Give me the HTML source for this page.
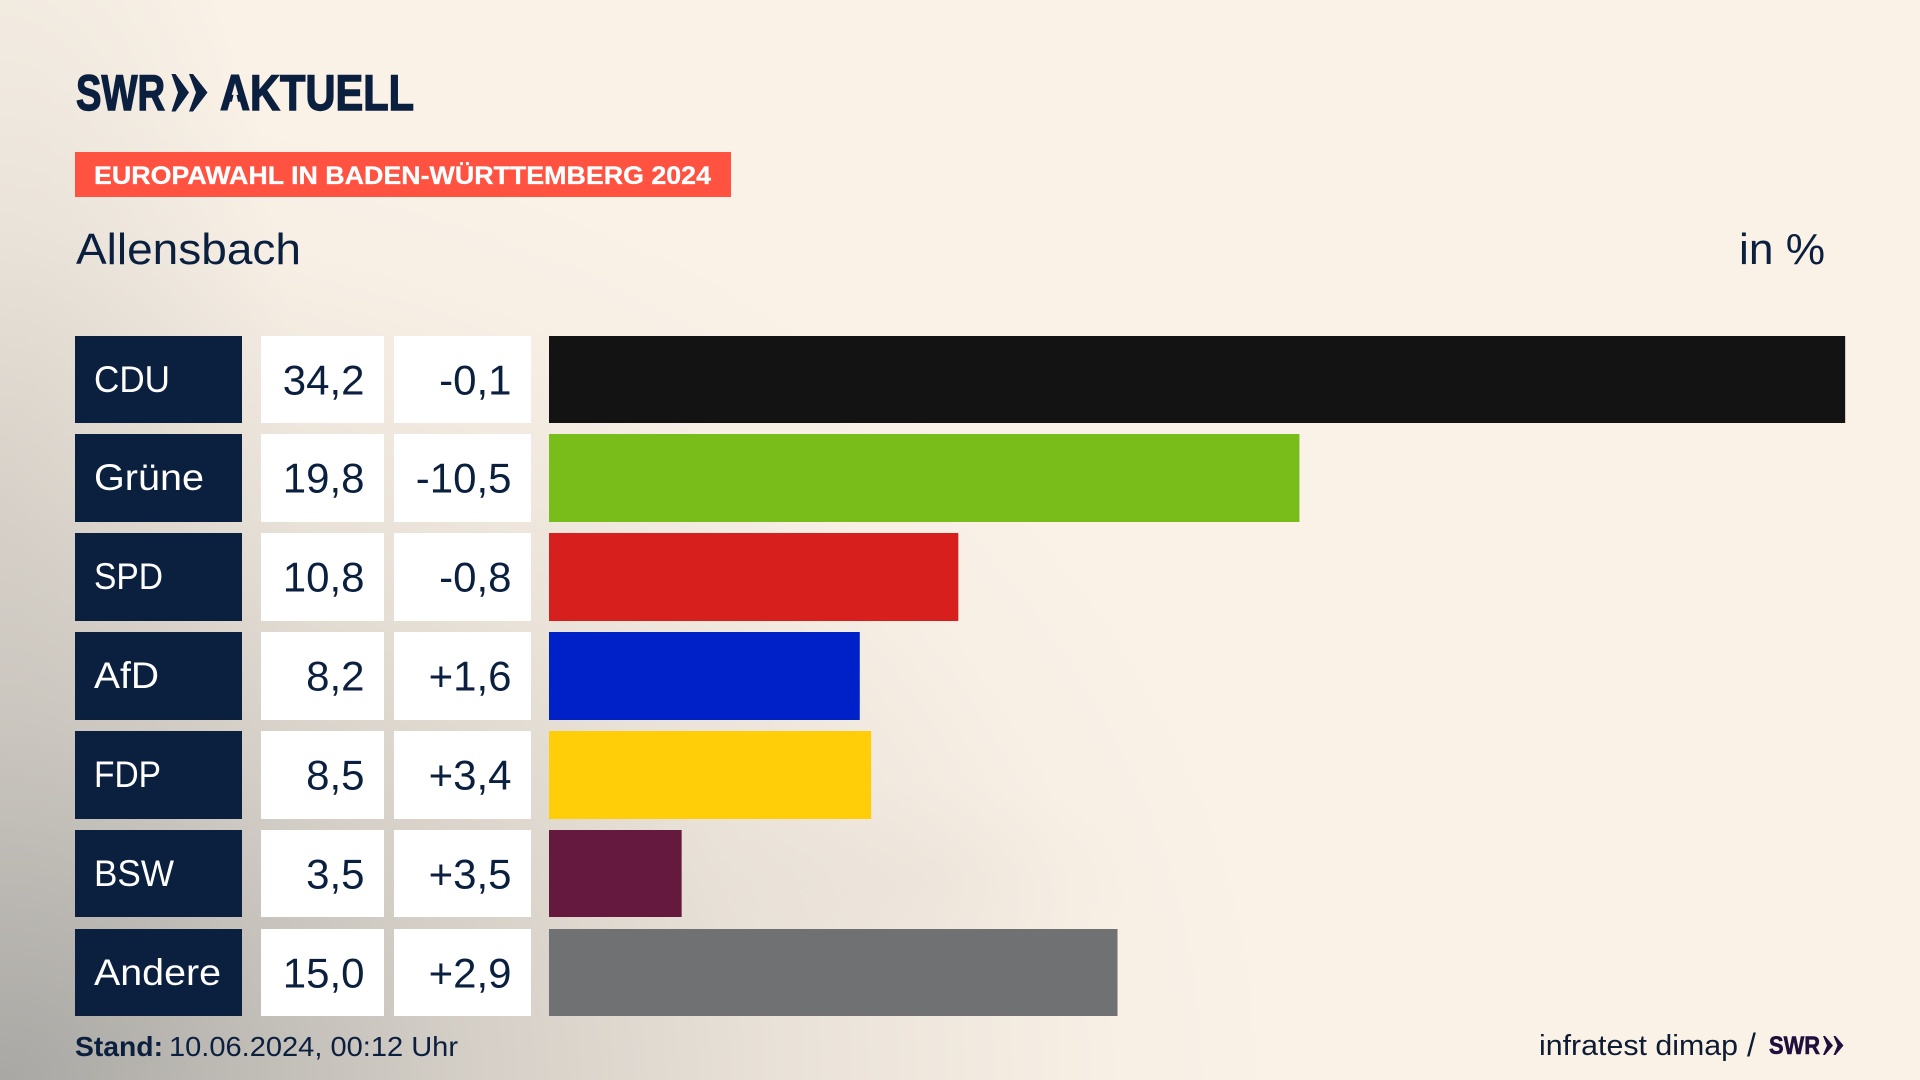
<!DOCTYPE html>
<html lang="de">
<head>
<meta charset="utf-8">
<title>Europawahl in Baden-Württemberg 2024 – Allensbach</title>
<style>
html,body{margin:0;padding:0;width:1920px;height:1080px;overflow:hidden;background:#faf2e7}
#stage{position:absolute;left:0;top:0;width:1920px;height:1080px;
background:
radial-gradient(ellipse 1300px 1000px at 0px 1080px,rgba(150,150,148,.8) 0%,rgba(150,150,148,.6) 18%,rgba(155,153,150,.4) 36%,rgba(165,160,155,.2) 60%,rgba(180,172,165,.04) 85%,rgba(250,242,231,0) 100%),
radial-gradient(ellipse 300px 750px at 0px 500px,rgba(150,150,148,.22) 0%,rgba(150,150,148,.1) 55%,rgba(250,242,231,0) 100%),
radial-gradient(ellipse 220px 100px at 930px 880px,rgba(220,210,200,.14) 0%,rgba(250,242,231,0) 100%),
#faf2e7}
svg{position:absolute;left:0;top:0}
text{font-family:"Liberation Sans",sans-serif}
</style>
</head>
<body>
<div id="stage">
<svg id="chart" width="1920" height="1080" viewBox="0 0 1920 1080">
  <g fill="#0b1f3f">
    <text x="76" y="110" font-size="50" font-weight="700" textLength="89" lengthAdjust="spacingAndGlyphs" stroke="#0b1f3f" stroke-width="1.4">SWR</text>
    <polygon points="171.5,74 175.5,74 189,92.5 175.5,111.5 171.5,111.5 178,92.5"/>
    <polygon points="189,74 193,74 207.5,92.5 193,111.5 189,111.5 196,92.5"/>
    <text x="220" y="110" font-size="50" font-weight="700" textLength="194" lengthAdjust="spacingAndGlyphs" stroke="#0b1f3f" stroke-width="1.4">AKTUELL</text>
    <polygon points="229.5,111.5 240.5,111.5 235,89" fill="#f8f0e5"/>
  </g>
  <rect x="75" y="152" width="656" height="45" fill="#ff5240"/>
  <text x="94" y="184" font-size="25" font-weight="700" fill="#fff" stroke="#fff" stroke-width=".3" textLength="617" lengthAdjust="spacingAndGlyphs">EUROPAWAHL IN BADEN-WÜRTTEMBERG 2024</text>
  <text x="76" y="264" font-size="44" fill="#0b1f3f" textLength="225" lengthAdjust="spacingAndGlyphs">Allensbach</text>
  <text x="1739" y="264" font-size="44" fill="#0b1f3f" textLength="86" lengthAdjust="spacingAndGlyphs">in %</text>
  <g id="rows"></g>
  <text x="75" y="1056" font-size="28" font-weight="700" fill="#0b1f3f" textLength="88" lengthAdjust="spacingAndGlyphs">Stand:</text>
  <text x="169" y="1056" font-size="28" fill="#0b1f3f" textLength="289" lengthAdjust="spacingAndGlyphs">10.06.2024, 00:12 Uhr</text>
  <text x="1539" y="1055" font-size="29" fill="#0d1b33" textLength="199" lengthAdjust="spacingAndGlyphs">infratest dimap</text>
  <text x="1747" y="1056" font-size="32" fill="#0d1b33">/</text>
  <text x="1769" y="1054" font-size="25" font-weight="700" fill="#1e0f3c" stroke="#1e0f3c" stroke-width=".6" textLength="51" lengthAdjust="spacingAndGlyphs">SWR</text>
  <polygon points="1823,1036 1825,1036 1833,1045.5 1825,1055 1823,1055 1827,1045.5" fill="#1e0f3c"/>
  <polygon points="1833.5,1036 1835.5,1036 1843.5,1045.5 1835.5,1055 1833.5,1055 1837.5,1045.5" fill="#1e0f3c"/>
</svg>
</div>
<script>
const categories = ["CDU", "Grüne", "SPD", "AfD", "FDP", "BSW", "Andere"];
const shares = [34.2, 19.8, 10.8, 8.2, 8.5, 3.5, 15.0];
const changes = [-0.1, -10.5, -0.8, 1.6, 3.4, 3.5, 2.9];
const partyColors = ["#131313", "#79bd1a", "#d7201e", "#0021c8", "#ffce09", "#65193f", "#6f7173"];
const labelTextWidths = [76, 110, 69, 65, 67, 80, 127];

const NS = "http://www.w3.org/2000/svg";
const rowsGroup = document.getElementById("rows");
function xScale(v) { return v * 37.9; }
function yTop(i) { return Math.floor(336 + i * 98.84); }
function yBottom(i) { return Math.floor(336 + i * 98.84 + 87.7); }
function fmt(v) { return v.toFixed(1).replace(".", ","); }
function fmtChange(v) { return (v > 0 ? "+" : "") + fmt(v); }
function make(tag, attrs, parent) {
  const el = document.createElementNS(NS, tag);
  for (const k in attrs) el.setAttribute(k, attrs[k]);
  parent.appendChild(el);
  return el;
}
categories.forEach(function (name, i) {
  const top = yTop(i);
  const h = yBottom(i) - top;
  const key = name.toLowerCase().replace("ü", "ue");

  const labelBox = make("rect", { x: 75, y: top, width: 167, height: h, fill: "#0b1f3f" }, rowsGroup);
  
  

  const label = make("text", { x: 94, y: top + 56, "font-size": 37, fill: "#fff", textLength: labelTextWidths[i], lengthAdjust: "spacingAndGlyphs" }, rowsGroup);
  label.textContent = name;
  
  

  const valueBox = make("rect", { x: 261, y: top, width: 123, height: h, fill: "#fff" }, rowsGroup);
  
  

  const value = make("text", { x: 364.5, y: top + 58.5, "font-size": 42, fill: "#0b1f3f", "text-anchor": "end" }, rowsGroup);
  value.textContent = fmt(shares[i]);
  
  

  const changeBox = make("rect", { x: 394, y: top, width: 137, height: h, fill: "#fff" }, rowsGroup);
  
  

  const change = make("text", { x: 511.5, y: top + 58.5, "font-size": 42, fill: "#0b1f3f", "text-anchor": "end" }, rowsGroup);
  change.textContent = fmtChange(changes[i]);
  
  

  const bar = make("rect", { x: 549, y: top, width: xScale(shares[i]), height: h, fill: partyColors[i] }, rowsGroup);
  
  
});
</script>
</body>
</html>
